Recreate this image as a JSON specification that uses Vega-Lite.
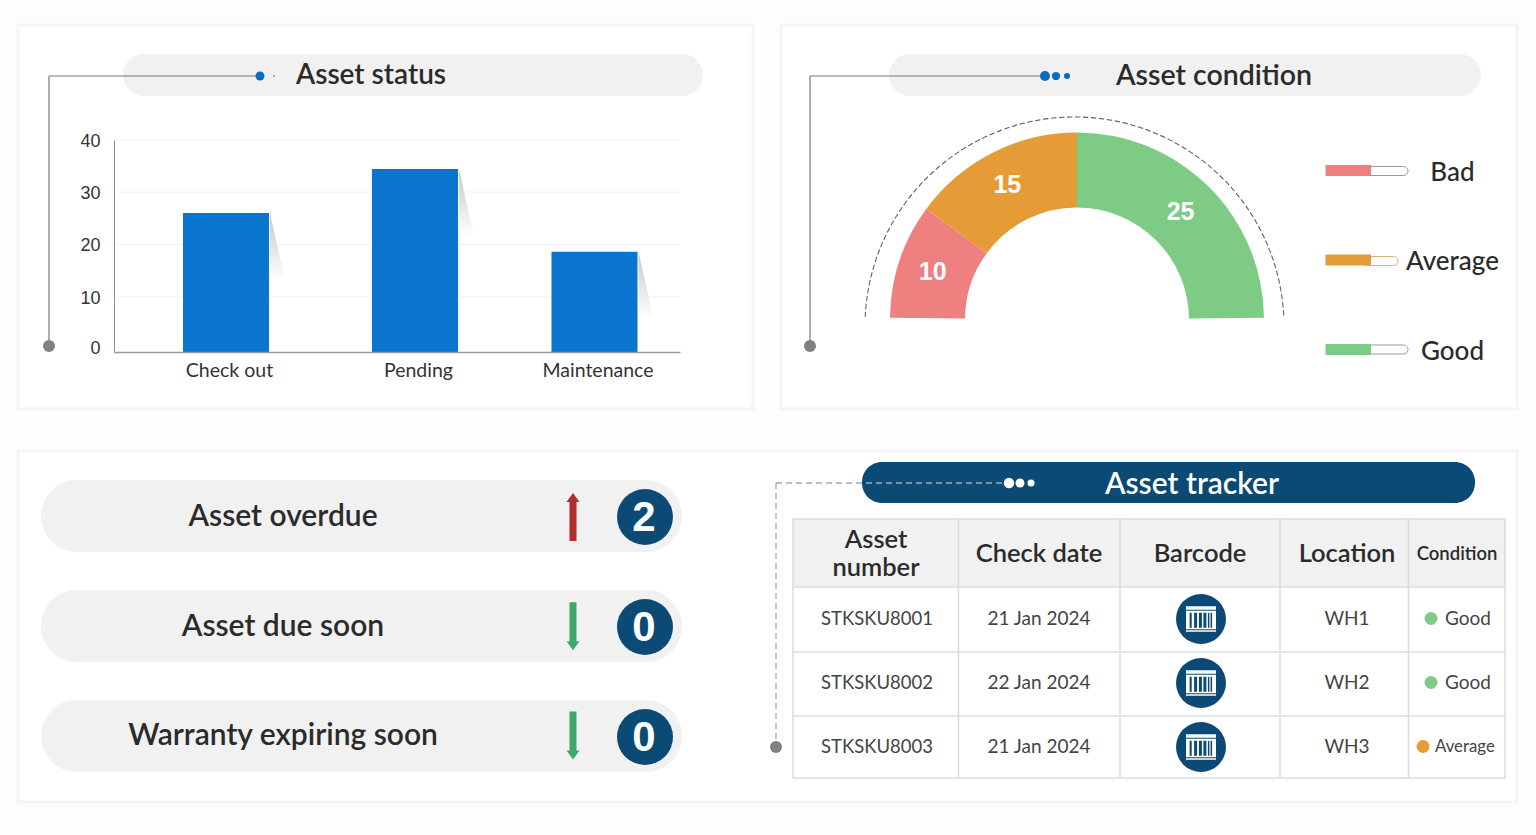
{
"$schema":"https://vega.github.io/schema/vega-lite/v6.json",
"width":1536,"height":835,"padding":0,"autosize":"none","background":"#fdfdfd",
"config":{"view":{"stroke":null},"axis":{"disable":true},"legend":{"disable":true},"text":{"font":"Lato"}},
"resolve":{"scale":{"x":"independent","y":"independent","color":"independent","size":"independent","shape":"independent"}},
"data":{"values":[{"element":"decoration"}]},
"datasets":{
"status":[{"status":"Check out","order":1,"count":26},{"status":"Pending","order":2,"count":34.4},{"status":"Maintenance","order":3,"count":18.6}],
"ticks":[{"tick":10},{"tick":20},{"tick":30},{"tick":40}],
"conditions":[{"condition":"Bad","assets":10},{"condition":"Average","assets":15},{"condition":"Good","assets":25}],
"kpi":[{"kpi":"Asset overdue","count":2,"trend":"up"},{"kpi":"Asset due soon","count":0,"trend":"down"},{"kpi":"Warranty expiring soon","count":0,"trend":"down"}],
"headers":[{"header":"Asset\nnumber","column":1},{"header":"Check date","column":2},{"header":"Barcode","column":3},{"header":"Location","column":4},{"header":"Condition","column":5}],
"assets":[{"asset":"STKSKU8001","date":"21 Jan 2024","location":"WH1","condition":"Good"},{"asset":"STKSKU8002","date":"22 Jan 2024","location":"WH2","condition":"Good"},{"asset":"STKSKU8003","date":"21 Jan 2024","location":"WH3","condition":"Average"}]
},
"layer":[
{"mark":{"type":"rect","fill":"#ffffff","stroke":"#f5f5f5","strokeWidth":3},"encoding":{"x":{"datum":0,"scale":{"domain":[0,1],"range":[18,753]}},"x2":{"datum":1},"y":{"datum":0,"scale":{"domain":[0,1],"range":[25,409]}},"y2":{"datum":1}}},
{"mark":{"type":"rect","fill":"#ffffff","stroke":"#f5f5f5","strokeWidth":3},"encoding":{"x":{"datum":0,"scale":{"domain":[0,1],"range":[781,1517]}},"x2":{"datum":1},"y":{"datum":0,"scale":{"domain":[0,1],"range":[25,409]}},"y2":{"datum":1}}},
{"mark":{"type":"rect","fill":"#ffffff","stroke":"#f5f5f5","strokeWidth":3},"encoding":{"x":{"datum":0,"scale":{"domain":[0,1],"range":[18,1517]}},"x2":{"datum":1},"y":{"datum":0,"scale":{"domain":[0,1],"range":[451,802]}},"y2":{"datum":1}}},

{"mark":{"type":"rect","fill":"#f1f1f1","cornerRadius":21},"encoding":{"x":{"datum":0,"scale":{"domain":[0,1],"range":[123,703]}},"x2":{"datum":1},"y":{"datum":0,"scale":{"domain":[0,1],"range":[54,96]}},"y2":{"datum":1}}},
{"mark":{"type":"rect","fill":"#f1f1f1","cornerRadius":21},"encoding":{"x":{"datum":0,"scale":{"domain":[0,1],"range":[889,1481]}},"x2":{"datum":1},"y":{"datum":0,"scale":{"domain":[0,1],"range":[54,96]}},"y2":{"datum":1}}},
{"mark":{"type":"rect","fill":"#0b4a75","cornerRadius":20},"encoding":{"x":{"datum":0,"scale":{"domain":[0,1],"range":[862,1475]}},"x2":{"datum":1},"y":{"datum":0,"scale":{"domain":[0,1],"range":[462,503]}},"y2":{"datum":1}}},

{"mark":{"type":"rule","color":"#777777","strokeWidth":1.2},"encoding":{"x":{"datum":0,"scale":{"domain":[0,1],"range":[49,260]}},"x2":{"datum":1},"y":{"datum":0,"scale":{"domain":[0,1],"range":[76,346]}}}},
{"mark":{"type":"rule","color":"#777777","strokeWidth":1.2},"encoding":{"x":{"datum":0,"scale":{"domain":[0,1],"range":[49,260]}},"y":{"datum":0,"scale":{"domain":[0,1],"range":[76,346]}},"y2":{"datum":1}}},
{"mark":{"type":"circle","color":"#808080","opacity":1,"size":144},"encoding":{"x":{"datum":0,"scale":{"domain":[0,1],"range":[49,260]}},"y":{"datum":1,"scale":{"domain":[0,1],"range":[76,346]}}}},
{"data":{"values":[{"dot":"lead"},{"dot":"tail"}]},"mark":{"type":"circle","opacity":1},"encoding":{"x":{"field":"dot","type":"nominal","scale":{"type":"point","padding":0,"domain":["lead","tail"],"range":[260,274]}},"y":{"datum":0,"scale":{"domain":[0,1],"range":[76,346]}},"size":{"field":"dot","type":"nominal","scale":{"domain":["lead","tail"],"range":[81,3]}},"color":{"field":"dot","type":"nominal","scale":{"domain":["lead","tail"],"range":["#0a6cbf","#666666"]}}}},

{"mark":{"type":"rule","color":"#777777","strokeWidth":1.2},"encoding":{"x":{"datum":0,"scale":{"domain":[0,1],"range":[810,1045]}},"x2":{"datum":1},"y":{"datum":0,"scale":{"domain":[0,1],"range":[76,346]}}}},
{"mark":{"type":"rule","color":"#777777","strokeWidth":1.2},"encoding":{"x":{"datum":0,"scale":{"domain":[0,1],"range":[810,1045]}},"y":{"datum":0,"scale":{"domain":[0,1],"range":[76,346]}},"y2":{"datum":1}}},
{"mark":{"type":"circle","color":"#808080","opacity":1,"size":144},"encoding":{"x":{"datum":0,"scale":{"domain":[0,1],"range":[810,1045]}},"y":{"datum":1,"scale":{"domain":[0,1],"range":[76,346]}}}},
{"data":{"values":[{"dot":"lead"},{"dot":"mid"},{"dot":"tail"}]},"mark":{"type":"circle","color":"#0a6cbf","opacity":1},"encoding":{"x":{"field":"dot","type":"nominal","scale":{"type":"point","padding":0,"domain":["lead","mid","tail"],"range":[1045,1067]}},"y":{"datum":0,"scale":{"domain":[0,1],"range":[76,346]}},"size":{"field":"dot","type":"nominal","scale":{"domain":["lead","mid","tail"],"range":[100,36,20]}}}},

{"mark":{"type":"rule","color":"#a3a9ad","strokeWidth":1.3,"strokeDash":[6,4]},"encoding":{"x":{"datum":0,"scale":{"domain":[0,1],"range":[776,1009]}},"x2":{"datum":1},"y":{"datum":0,"scale":{"domain":[0,1],"range":[483,747]}}}},
{"mark":{"type":"rule","color":"#a3a9ad","strokeWidth":1.3,"strokeDash":[6,4]},"encoding":{"x":{"datum":0,"scale":{"domain":[0,1],"range":[776,1009]}},"y":{"datum":0,"scale":{"domain":[0,1],"range":[483,747]}},"y2":{"datum":1}}},
{"mark":{"type":"circle","color":"#808080","opacity":1,"size":144},"encoding":{"x":{"datum":0,"scale":{"domain":[0,1],"range":[776,1009]}},"y":{"datum":1,"scale":{"domain":[0,1],"range":[483,747]}}}},
{"data":{"values":[{"dot":"lead"},{"dot":"mid"},{"dot":"tail"}]},"mark":{"type":"circle","color":"#ffffff","opacity":1},"encoding":{"x":{"field":"dot","type":"nominal","scale":{"type":"point","padding":0,"domain":["lead","mid","tail"],"range":[1009,1031]}},"y":{"datum":0,"scale":{"domain":[0,1],"range":[483,747]}},"size":{"field":"dot","type":"nominal","scale":{"domain":["lead","mid","tail"],"range":[110,50,25]}}}},

{"data":{"values":[{"title":"Asset status"}]},"mark":{"type":"text","fontSize":28,"fontWeight":600,"color":"#2b2b2b","baseline":"middle"},"encoding":{"text":{"field":"title"},"x":{"datum":0.5,"scale":{"domain":[0,1],"range":[297,445]}},"y":{"datum":0.5,"scale":{"domain":[0,1],"range":[55,97]}}}},
{"data":{"values":[{"title":"Asset condition"}]},"mark":{"type":"text","fontSize":28.5,"fontWeight":600,"color":"#2b2b2b","baseline":"middle"},"encoding":{"text":{"field":"title"},"x":{"datum":0.5,"scale":{"domain":[0,1],"range":[1117,1311]}},"y":{"datum":0.5,"scale":{"domain":[0,1],"range":[55,97]}}}},
{"data":{"values":[{"title":"Asset tracker"}]},"mark":{"type":"text","fontSize":30,"fontWeight":600,"color":"#ffffff","baseline":"middle"},"encoding":{"text":{"field":"title"},"x":{"datum":0.5,"scale":{"domain":[0,1],"range":[1103,1281]}},"y":{"datum":0.5,"scale":{"domain":[0,1],"range":[464,506]}}}},

{"data":{"name":"ticks"},"mark":{"type":"rule","color":"#f0f0f0","strokeWidth":1},"encoding":{"x":{"datum":0,"scale":{"domain":[0,1],"range":[114,680]}},"x2":{"datum":1},"y":{"field":"tick","type":"quantitative","scale":{"domain":[0,10,20,30,40],"range":[352,297,244.5,192,140],"nice":false}}}},
{"data":{"name":"status"},"mark":{"type":"point","filled":true,"opacity":1,"strokeWidth":0,"size":4489,"shape":"M0,0 L0.45,2 L0,2 Z","xOffset":44,"fill":{"gradient":"linear","x1":0,"y1":0,"x2":0,"y2":1,"stops":[{"offset":0,"color":"#c4c8c8"},{"offset":1,"color":"#ffffff"}]}},"encoding":{"x":{"field":"order","type":"quantitative","scale":{"domain":[0,1,2,3,4],"range":[114,226,415,594.5,680],"nice":false}},"y":{"field":"count","type":"quantitative","scale":{"domain":[0,10,20,30,40],"range":[352,297,244.5,192,140],"nice":false}}}},
{"data":{"name":"status"},"mark":{"type":"bar","width":86,"orient":"vertical","color":"#0a75cf"},"encoding":{
"x":{"field":"order","type":"quantitative","scale":{"domain":[0,1,2,3,4],"range":[114,226,415,594.5,680],"nice":false},"axis":{"disable":false,"orient":"bottom","offset":-483,"values":[1,2,3],"labelExpr":"datum.value==1?'Check out':datum.value==2?'Pending':'Maintenance'","title":null,"ticks":false,"grid":false,"domain":true,"domainColor":"#9a9a9a","domainWidth":1.5,"labelFont":"Lato","labelFontSize":19.5,"labelColor":"#333333","labelPadding":9,"labelOffset":3,"labelOverlap":false,"labelFlush":false,"zindex":1}},
"y":{"field":"count","type":"quantitative","scale":{"domain":[0,10,20,30,40],"range":[352,297,244.5,192,140],"nice":false},"axis":{"disable":false,"orient":"left","offset":-114,"values":[0,10,20,30,40],"title":null,"ticks":false,"grid":false,"domain":true,"domainColor":"#8a8a8a","labelFont":"Liberation Sans","labelFontSize":18,"labelColor":"#333333","labelPadding":14,"labelOverlap":false,"labelFlush":false,"labelOffset":{"expr":"datum.value==0?-4:1"},"zindex":1}}}},

{"mark":{"type":"arc","radius":209.5,"radius2":209.5,"theta":-1.5239,"theta2":1.5239,"fillOpacity":0,"stroke":"#666666","strokeWidth":1.1,"strokeDash":[5,3]},"encoding":{"x":{"datum":0.5,"scale":{"domain":[0,1],"range":[865,1284]}},"y":{"datum":1,"scale":{"domain":[0,1],"range":[117,326.5]}}}},
{"data":{"name":"conditions"},"mark":{"type":"arc","radius":187,"radius2":112},"encoding":{"theta":{"field":"assets","type":"quantitative","stack":true,"scale":{"domain":[0,50],"range":[-1.5608,1.5608]}},"order":{"field":"assets"},"color":{"field":"condition","type":"nominal","scale":{"domain":["Bad","Average","Good"],"range":["#ee8080","#e69c36","#7dcb85"]}},"x":{"datum":0.5,"scale":{"domain":[0,1],"range":[890,1264]}},"y":{"datum":1,"scale":{"domain":[0,1],"range":[133,319.5]}}}},
{"data":{"name":"conditions"},"mark":{"type":"text","radius":150,"color":"#ffffff","font":"Liberation Sans","fontWeight":700,"fontSize":25,"baseline":"middle"},"encoding":{"text":{"field":"assets","type":"quantitative"},"theta":{"field":"assets","type":"quantitative","stack":true,"scale":{"domain":[0,50],"range":[-1.5608,1.5608]}},"order":{"field":"assets"},"detail":{"field":"condition"},"x":{"datum":0.5,"scale":{"domain":[0,1],"range":[888,1262]}},"y":{"datum":1,"scale":{"domain":[0,1],"range":[133,319]}}}},

{"data":{"name":"conditions"},"transform":[{"filter":"datum.condition!='Average'"}],"mark":{"type":"bar","orient":"horizontal","height":9,"cornerRadius":4.5,"fill":"#ffffff","stroke":"#9a9a9a","strokeWidth":1},"encoding":{"x":{"datum":0,"scale":{"domain":[0,1],"range":[1362,1408]}},"x2":{"datum":1},"y":{"field":"condition","type":"nominal","scale":{"type":"point","padding":0,"domain":["Bad","Good"],"range":[171,349.5]}}}},
{"data":{"name":"conditions"},"transform":[{"filter":"datum.condition=='Average'"}],"mark":{"type":"bar","orient":"horizontal","height":9,"cornerRadius":4.5,"fill":"#ffffff","stroke":"#d9b27a","strokeWidth":1},"encoding":{"x":{"datum":0,"scale":{"domain":[0,1],"range":[1362,1398]}},"x2":{"datum":1},"y":{"field":"condition","type":"nominal","scale":{"type":"point","padding":0,"domain":["Average"],"range":[261,261]}}}},
{"data":{"name":"conditions"},"mark":{"type":"bar","orient":"horizontal","height":11},"encoding":{"x":{"datum":0,"scale":{"domain":[0,1],"range":[1325.5,1371]}},"x2":{"datum":1},"y":{"field":"condition","type":"nominal","scale":{"type":"point","padding":0,"domain":["Bad","Average","Good"],"range":[170.5,349.5]}},"color":{"field":"condition","type":"nominal","scale":{"domain":["Bad","Average","Good"],"range":["#ee8080","#e69c36","#7dcb85"]}}}},
{"data":{"name":"conditions"},"mark":{"type":"text","fontSize":26,"fontWeight":500,"color":"#2b2b2b","baseline":"middle"},"encoding":{"text":{"field":"condition"},"x":{"datum":0.5,"scale":{"domain":[0,1],"range":[1405,1500]}},"y":{"field":"condition","type":"nominal","scale":{"type":"point","padding":0,"domain":["Bad","Average","Good"],"range":[172.5,351.5]}}}},

{"data":{"name":"kpi"},"mark":{"type":"bar","orient":"horizontal","height":72,"cornerRadius":36,"fill":"#f1f1f1"},"encoding":{"x":{"datum":0,"scale":{"domain":[0,1],"range":[41,682]}},"x2":{"datum":1},"y":{"field":"kpi","type":"nominal","sort":null,"scale":{"type":"point","padding":0,"domain":["Asset overdue","Asset due soon","Warranty expiring soon"],"range":[516,736]}}}},
{"data":{"name":"kpi"},"mark":{"type":"text","fontSize":30,"fontWeight":600,"color":"#2b2b2b","baseline":"middle"},"encoding":{"text":{"field":"kpi"},"x":{"datum":0.5,"scale":{"domain":[0,1],"range":[129,437]}},"y":{"field":"kpi","type":"nominal","scale":{"type":"point","padding":0,"domain":["Asset overdue","Asset due soon","Warranty expiring soon"],"range":[517,736]}}}},
{"data":{"name":"kpi"},"mark":{"type":"point","filled":true,"opacity":1,"strokeWidth":0,"size":2304},"encoding":{"x":{"datum":0.5,"scale":{"domain":[0,1],"range":[560,586]}},"y":{"field":"kpi","type":"nominal","scale":{"type":"point","padding":0,"domain":["Asset overdue","Asset due soon","Warranty expiring soon"],"range":[517,735.5]}},"shape":{"field":"trend","type":"nominal","scale":{"domain":["up","down"],"range":["M-0.146,1 L-0.146,-0.62 L-0.27,-0.62 L0,-1 L0.27,-0.62 L0.146,-0.62 L0.146,1 Z","M-0.146,-1 L-0.146,0.62 L-0.27,0.62 L0,1 L0.27,0.62 L0.146,0.62 L0.146,-1 Z"]}},"color":{"field":"trend","type":"nominal","scale":{"domain":["up","down"],"range":["#b22e2e","#3fa96b"]}}}},
{"data":{"name":"kpi"},"mark":{"type":"circle","color":"#0b4a75","opacity":1,"size":3136},"encoding":{"x":{"datum":0.5,"scale":{"domain":[0,1],"range":[617,673]}},"y":{"field":"kpi","type":"nominal","scale":{"type":"point","padding":0,"domain":["Asset overdue","Asset due soon","Warranty expiring soon"],"range":[517,737]}}}},
{"data":{"name":"kpi"},"mark":{"type":"text","font":"Liberation Sans","fontSize":42,"fontWeight":700,"color":"#ffffff","baseline":"middle"},"encoding":{"text":{"field":"count","type":"quantitative"},"x":{"datum":0.5,"scale":{"domain":[0,1],"range":[617,671]}},"y":{"field":"kpi","type":"nominal","scale":{"type":"point","padding":0,"domain":["Asset overdue","Asset due soon","Warranty expiring soon"],"range":[518,738]}}}},

{"mark":{"type":"rect","fill":"#f1f1f1"},"encoding":{"x":{"datum":0,"scale":{"domain":[0,1],"range":[793,1505]}},"x2":{"datum":1},"y":{"datum":0,"scale":{"domain":[0,1],"range":[519,587]}},"y2":{"datum":1}}},
{"mark":{"type":"rect","fill":null,"stroke":"#dcdcdc","strokeWidth":1.5},"encoding":{"x":{"datum":0,"scale":{"domain":[0,1],"range":[793,1505]}},"x2":{"datum":1},"y":{"datum":0,"scale":{"domain":[0,1],"range":[519,778]}},"y2":{"datum":1}}},
{"mark":{"type":"rule","stroke":"#dcdcdc","strokeWidth":1.5},"encoding":{"x":{"datum":0,"scale":{"domain":[0,1],"range":[793,1505]}},"x2":{"datum":1},"y":{"datum":1,"scale":{"domain":[0,1],"range":[519,587]}}}},
{"data":{"name":"assets"},"transform":[{"filter":"datum.asset!='STKSKU8003'"}],"mark":{"type":"rule","stroke":"#dcdcdc","strokeWidth":1.5},"encoding":{"x":{"datum":0,"scale":{"domain":[0,1],"range":[793,1505]}},"x2":{"datum":1},"y":{"field":"asset","type":"nominal","scale":{"type":"point","padding":0,"domain":["STKSKU8001","STKSKU8002"],"range":[652,716]}}}},
{"data":{"name":"headers"},"transform":[{"filter":"datum.column<5"}],"mark":{"type":"rule","stroke":"#dcdcdc","strokeWidth":1.5},"encoding":{"x":{"field":"column","type":"quantitative","scale":{"domain":[1,2,3,4],"range":[958.5,1120,1280,1408.5],"nice":false}},"y":{"datum":0,"scale":{"domain":[0,1],"range":[519,778]}},"y2":{"datum":1}}},
{"data":{"name":"headers"},"mark":{"type":"text","fontWeight":600,"color":"#2b2b2b","baseline":"middle","lineBreak":"\n","lineHeight":28},"encoding":{"text":{"field":"header"},"size":{"condition":{"test":"datum.column==5","value":18.5},"value":25.5},"x":{"field":"column","type":"quantitative","scale":{"domain":[1,2,3,4,5],"range":[876,1039,1200,1347,1457],"nice":false}},"y":{"field":"column","type":"quantitative","scale":{"domain":[1,2,5],"range":[540,554,554],"nice":false}}}},

{"data":{"name":"assets"},"mark":{"type":"text","fontSize":18.5,"color":"#444444","baseline":"middle"},"encoding":{"text":{"field":"asset"},"x":{"datum":0.5,"scale":{"domain":[0,1],"range":[793,961]}},"y":{"field":"asset","type":"nominal","scale":{"type":"point","padding":0,"domain":["STKSKU8001","STKSKU8002","STKSKU8003"],"range":[619,747]}}}},
{"data":{"name":"assets"},"mark":{"type":"text","fontSize":19,"color":"#444444","baseline":"middle"},"encoding":{"text":{"field":"date"},"x":{"datum":0.5,"scale":{"domain":[0,1],"range":[958,1120]}},"y":{"field":"asset","type":"nominal","scale":{"type":"point","padding":0,"domain":["STKSKU8001","STKSKU8002","STKSKU8003"],"range":[619,747]}}}},
{"data":{"name":"assets"},"mark":{"type":"circle","color":"#0b4a75","opacity":1,"size":2500},"encoding":{"x":{"datum":0.5,"scale":{"domain":[0,1],"range":[1120,1282]}},"y":{"field":"asset","type":"nominal","scale":{"type":"point","padding":0,"domain":["STKSKU8001","STKSKU8002","STKSKU8003"],"range":[619,747]}}}},
{"data":{"name":"assets"},"mark":{"type":"point","filled":true,"opacity":1,"strokeWidth":0,"color":"#ffffff","size":900,"shape":"M-1,-0.85 L1,-0.85 L1,0.85 L-1,0.85 Z"},"encoding":{"x":{"datum":0.5,"scale":{"domain":[0,1],"range":[1120,1282]}},"y":{"field":"asset","type":"nominal","scale":{"type":"point","padding":0,"domain":["STKSKU8001","STKSKU8002","STKSKU8003"],"range":[619,747]}}}},
{"data":{"name":"assets"},"mark":{"type":"point","filled":true,"opacity":1,"strokeWidth":0,"color":"#0b4a75","size":900,"shape":"M-0.76,-0.42 h0.14 v1 h-0.14 z M-0.46,-0.42 h0.2 v1 h-0.2 z M-0.14,-0.42 h0.2 v1 h-0.2 z M0.16,-0.42 h0.2 v1 h-0.2 z M0.46,-0.42 h0.1 v1 h-0.1 z M0.64,-0.42 h0.1 v1 h-0.1 z M-1,-0.62 h2 v0.07 h-2 z M-1,0.68 h2 v0.07 h-2 z"},"encoding":{"x":{"datum":0.5,"scale":{"domain":[0,1],"range":[1120,1282]}},"y":{"field":"asset","type":"nominal","scale":{"type":"point","padding":0,"domain":["STKSKU8001","STKSKU8002","STKSKU8003"],"range":[619,747]}}}},
{"data":{"name":"assets"},"mark":{"type":"text","fontSize":19,"color":"#444444","baseline":"middle"},"encoding":{"text":{"field":"location"},"x":{"datum":0.5,"scale":{"domain":[0,1],"range":[1280,1414]}},"y":{"field":"asset","type":"nominal","scale":{"type":"point","padding":0,"domain":["STKSKU8001","STKSKU8002","STKSKU8003"],"range":[619,747]}}}},
{"data":{"name":"assets"},"mark":{"type":"circle","opacity":1,"size":169},"encoding":{"x":{"field":"condition","type":"nominal","scale":{"type":"point","padding":0,"domain":["Average","Good"],"range":[1423,1431]}},"y":{"field":"asset","type":"nominal","scale":{"type":"point","padding":0,"domain":["STKSKU8001","STKSKU8002","STKSKU8003"],"range":[618.5,746.5]}},"color":{"field":"condition","type":"nominal","scale":{"domain":["Average","Good"],"range":["#e69c36","#7dcb85"]}}}},
{"data":{"name":"assets"},"mark":{"type":"text","align":"left","color":"#444444","baseline":"middle"},"encoding":{"text":{"field":"condition"},"size":{"condition":{"test":"datum.condition=='Average'","value":16.8},"value":19},"x":{"field":"condition","type":"nominal","scale":{"type":"point","padding":0,"domain":["Average","Good"],"range":[1435,1445]}},"y":{"field":"asset","type":"nominal","scale":{"type":"point","padding":0,"domain":["STKSKU8001","STKSKU8002","STKSKU8003"],"range":[619,747]}}}}
]
}
